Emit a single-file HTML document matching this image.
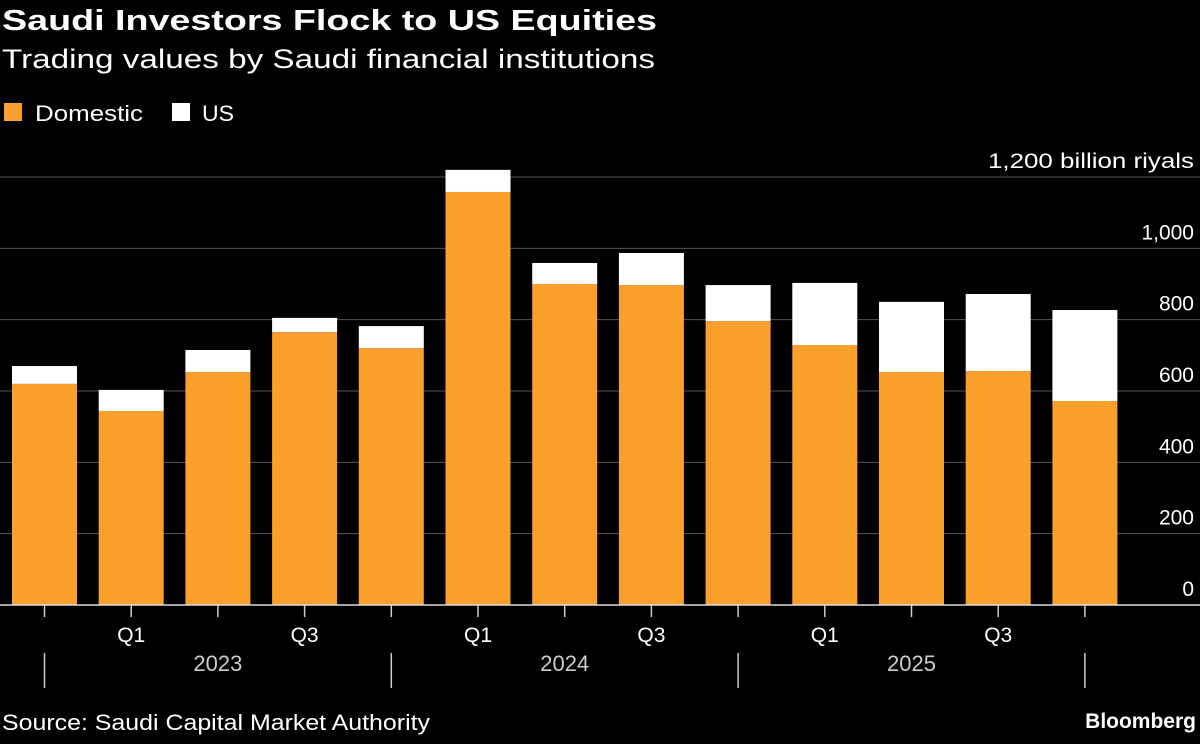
<!DOCTYPE html>
<html><head><meta charset="utf-8"><style>
body{margin:0;background:#000;width:1200px;height:739px;overflow:hidden;font-family:"Liberation Sans",sans-serif;color:#fff}
</style></head><body>
<svg width="1200" height="739" xmlns="http://www.w3.org/2000/svg" id="svg">
<text x="2" y="30" font-size="29" font-weight="bold" fill="#fff" textLength="655" lengthAdjust="spacingAndGlyphs">Saudi Investors Flock to US Equities</text>
<text x="2" y="68" font-size="27" fill="#fff" textLength="653" lengthAdjust="spacingAndGlyphs">Trading values by Saudi financial institutions</text>
<rect x="4" y="103" width="18" height="18" fill="#fb9f2d"/>
<text x="35" y="121" font-size="22" fill="#fff" textLength="108" lengthAdjust="spacingAndGlyphs">Domestic</text>
<rect x="172" y="103" width="18" height="18" fill="#fff"/>
<text x="202" y="121" font-size="22" fill="#fff" textLength="32" lengthAdjust="spacingAndGlyphs">US</text>
<text x="2" y="730" font-size="22" fill="#fff" textLength="428" lengthAdjust="spacingAndGlyphs">Source: Saudi Capital Market Authority</text>
<text x="1196" y="728" font-size="21" font-weight="bold" text-anchor="end" fill="#fff">Bloomberg</text>
<g id="g"></g>
</svg>
<script>
const domestic=[620,544,653,765,720,1158,900,897,796,729,653,656,572];
const us=[50,59,62,40,62,62,59,90,101,174,197,216,255];
const quarterLabels=["","Q1","","Q3","","Q1","","Q3","","Q1","","Q3",""];
const yearLabels=["2023","2024","2025"];
const yTicks=[0,200,400,600,800,1000,1200];
const NS="http://www.w3.org/2000/svg",g=document.getElementById('g');
const y0=605,y1=177,yMax=1200;
const y=v=>y0-(v/yMax)*(y0-y1);
const x=i=>44.5+i*86.7;
const bw=65;
function mk(t,a){const e=document.createElementNS(NS,t);for(const k in a)e.setAttribute(k,a[k]);g.appendChild(e);return e;}
yTicks.forEach(v=>{
 if(v>0){const l=mk('line',{x1:0,x2:1200,y1:y(v),y2:y(v),stroke:'#555','stroke-width':1});
 
 }
 const t=mk('text',{x:1194,y:y(v)-9,'font-size':21,fill:'#fff','text-anchor':'end'});
 t.textContent=v===1200?'1,200 billion riyals':v.toLocaleString('en-US');
 if(v===1200){t.setAttribute('textLength','206');t.setAttribute('lengthAdjust','spacingAndGlyphs');}
 
 
});
domestic.forEach((d,i)=>{
 const r=mk('rect',{x:x(i)-bw/2,y:y(d),width:bw,height:y0-y(d),fill:'#fb9f2d'});
 
 
 const r2=mk('rect',{x:x(i)-bw/2,y:y(d+us[i]),width:bw,height:y(d)-y(d+us[i]),fill:'#fff'});
 
 
 const tk=mk('line',{x1:x(i),x2:x(i),y1:y0,y2:y0+12,stroke:'#ccc','stroke-width':1.5});
 
 
 if(quarterLabels[i]){const t=mk('text',{x:x(i),y:642,'font-size':21,fill:'#fff','text-anchor':'middle'});t.textContent=quarterLabels[i];
 
 }
});
const ax=mk('line',{x1:0,x2:1200,y1:y0,y2:y0,stroke:'#ddd','stroke-width':1.5});


[0,4,8,12].forEach(i=>{const l=mk('line',{x1:x(i),x2:x(i),y1:653,y2:688,stroke:'#ccc','stroke-width':1.5});
 
 });
yearLabels.forEach((yl,k)=>{const t=mk('text',{x:x(2+4*k),y:671,'font-size':22,fill:'#ccc','text-anchor':'middle'});t.textContent=yl;
 
 });
</script>
</body></html>
